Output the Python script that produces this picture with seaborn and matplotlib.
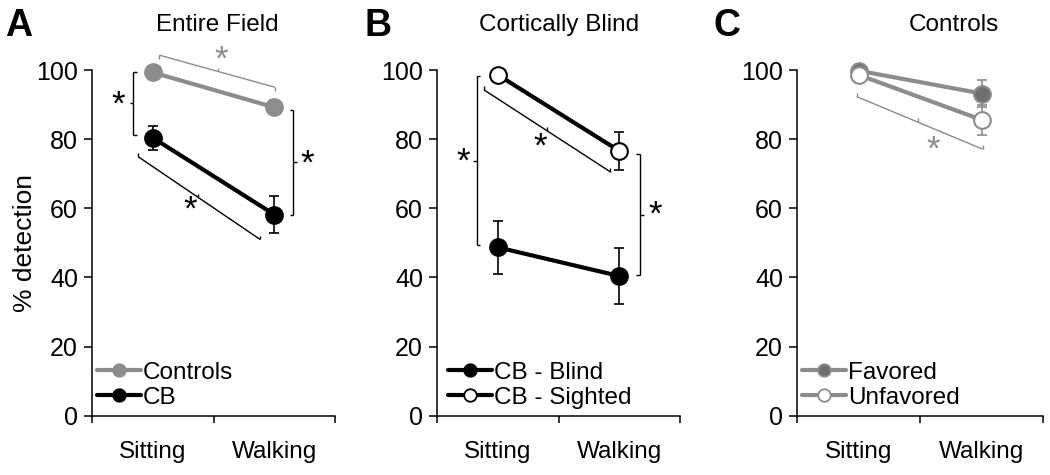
import matplotlib
matplotlib.use("Agg")
import matplotlib.pyplot as plt
import seaborn as sns
from matplotlib.lines import Line2D

# ---------------- data ----------------
conditions = ["Sitting", "Walking"]

# Panel A: entire field
controls_mean = [99.3, 89.2]
controls_sem = [1.0, 2.0]
cb_mean = [80.4, 58.2]
cb_sem = [3.4, 5.3]

# Panel B: cortically blind
blind_mean = [48.7, 40.4]
blind_sem = [7.6, 8.2]
sighted_mean = [98.6, 76.6]
sighted_sem = [0.5, 5.6]

# Panel C: controls
fav_mean = [99.8, 93.2]
fav_sem = [1.0, 4.0]
unfav_mean = [98.6, 85.6]
unfav_sem = [1.0, 4.3]

titles = ["Entire Field", "Cortically Blind", "Controls"]
letters = ["A", "B", "C"]
yticks = [0, 20, 40, 60, 80, 100]

GREY = "#8c8c8c"
DGREY = "#6f6f6f"
FS = 17.5

sns.set_theme(style="ticks")
plt.rcParams["font.family"] = ["Liberation Sans", "DejaVu Sans"]
plt.rcParams["text.color"] = "black"
plt.rcParams["axes.labelcolor"] = "black"
plt.rcParams["xtick.color"] = "black"
plt.rcParams["ytick.color"] = "black"
plt.rcParams["xtick.labelcolor"] = "black"
plt.rcParams["ytick.labelcolor"] = "black"

fig = plt.figure(figsize=(10.5, 4.75), dpi=100)
W, H = 1050, 475
ax_bottom = 1 - 415.7 / H
ax_height = 345.7 / H
axA = fig.add_axes([92 / W, ax_bottom, 243 / W, ax_height])
axB = fig.add_axes([437 / W, ax_bottom, 243 / W, ax_height])
axC = fig.add_axes([797 / W, ax_bottom, 246 / W, ax_height])
axes = [axA, axB, axC]


def series(ax, mean, sem, color, face, ecolor, label):
    xs = list(range(len(conditions)))
    ax.errorbar(xs, mean, yerr=sem, fmt="none", ecolor=ecolor, elinewidth=1.2,
                capsize=3.6, capthick=1.2, zorder=2, clip_on=False)
    sns.pointplot(x=conditions, y=mean, color=color, errorbar=None, ax=ax,
                  markers="o", linestyles="-", linewidth=3.0, markersize=12,
                  markeredgewidth=1.5, markerfacecolor=face,
                  markeredgecolor=color, label=label, clip_on=False, zorder=3)
    return Line2D([], [], color=color, lw=3.0, marker="o", markersize=9,
                  markerfacecolor=face, markeredgecolor=color,
                  markeredgewidth=1.3, label=label)


hA = [series(axA, controls_mean, controls_sem, GREY, GREY, GREY, "Controls"),
      series(axA, cb_mean, cb_sem, "black", "black", "black", "CB")]
hB = [series(axB, blind_mean, blind_sem, "black", "black", "black", "CB - Blind"),
      series(axB, sighted_mean, sighted_sem, "black", "white", "black", "CB - Sighted")]
hC = [series(axC, fav_mean, fav_sem, GREY, DGREY, GREY, "Favored"),
      series(axC, unfav_mean, unfav_sem, GREY, "white", GREY, "Unfavored")]

legend_x = [0.02, 0.045, 0.02]
for ax, handles, lx in zip(axes, [hA, hB, hC], legend_x):
    leg = ax.legend(handles=handles, loc="lower left", bbox_to_anchor=(lx, 0.02),
                    frameon=False, fontsize=FS, handlelength=1.8, handletextpad=0.1,
                    labelspacing=0.12, borderpad=0, borderaxespad=0)
    for txt in leg.get_texts():
        txt.set_color("black")

for ax, t, tx in zip(axes, titles, [0.517, 0.502, 0.638]):
    ax.set_xlim(-0.5, 1.5)
    ax.set_ylim(0, 100)
    ax.set_yticks(yticks)
    ax.set_yticklabels([str(v) for v in yticks], fontsize=FS + 0.5, color="black")
    ax.set_xticks([-0.5, 0.5, 1.5])
    ax.set_xticklabels(["", "", ""])
    ax.set_xticks([0, 1], minor=True)
    ax.set_xticklabels(conditions, minor=True, fontsize=FS, color="black")
    ax.tick_params(axis="x", which="minor", length=0, pad=18)
    ax.tick_params(axis="x", which="major", length=5, width=1.1, direction="out", color="black")
    ax.tick_params(axis="y", length=6, width=1.1, direction="out", pad=4, color="black")
    for s in ["top", "right"]:
        ax.spines[s].set_visible(False)
    for s in ["left", "bottom"]:
        ax.spines[s].set_linewidth(1.1)
        ax.spines[s].set_color("black")
    ax.set_xlabel("")
    ax.set_ylabel("")
    ax.patch.set_alpha(0)
    ax.text(tx, 1.13, t, transform=ax.transAxes, ha="center", va="center",
            fontsize=FS, color="black")

axA.set_ylabel("% detection", fontsize=19, va="center", color="black")
axA.yaxis.set_label_coords(-0.276, 0.5)

for L, xpx in zip(letters, [19, 378, 727]):
    fig.text(xpx / W, 1 - 26 / H, L, ha="center", va="center", fontsize=27,
             fontweight="bold", color="black")


# ---------------- significance annotations ----------------
BLW = 1.0
TX = 0.03   # horizontal tick length (x units)
TY = 1.1    # vertical tick length (y units)


def slant(ax, x0, y0, x1, y1, xm, end_dir, mid_dir, color):
    kw = dict(color=color, lw=BLW, clip_on=False, solid_capstyle="butt")
    ax.plot([x0, x1], [y0, y1], **kw)
    ax.plot([x0, x0], [y0, y0 + end_dir * TY], **kw)
    ax.plot([x1, x1], [y1, y1 + end_dir * TY], **kw)
    ym = y0 + (xm - x0) / (x1 - x0) * (y1 - y0)
    ax.plot([xm, xm], [ym, ym + mid_dir * TY], **kw)


def vbracket(ax, x, y0, y1, end_dir, color):
    kw = dict(color=color, lw=BLW, clip_on=False, solid_capstyle="butt")
    ax.plot([x, x], [y0, y1], **kw)
    ax.plot([x, x + end_dir * TX], [y0, y0], **kw)
    ax.plot([x, x + end_dir * TX], [y1, y1], **kw)
    ym = (y0 + y1) / 2
    ax.plot([x, x - end_dir * TX], [ym, ym], **kw)


def star(ax, x, y, color):
    ax.text(x, y, "*", ha="center", va="center", fontsize=25, color=color, clip_on=False)


# Panel A
slant(axA, 0.054, 104.3, 1.006, 95.0, 0.537, -1, 1, GREY)
star(axA, 0.567, 103.0, GREY)
vbracket(axA, -0.160, 99.5, 81.2, 1, "black")
star(axA, -0.286, 89.8, "black")
vbracket(axA, 1.157, 88.4, 58.1, -1, "black")
star(axA, 1.272, 72.7, "black")
slant(axA, -0.119, 74.9, 0.883, 51.0, 0.375, 1, 1, "black")
star(axA, 0.312, 59.4, "black")

# Panel B
vbracket(axB, -0.173, 98.2, 49.3, 1, "black")
star(axB, -0.284, 73.4, "black")
slant(axB, -0.111, 94.2, 0.924, 70.6, 0.403, 1, 1, "black")
star(axB, 0.353, 77.7, "black")
vbracket(axB, 1.171, 75.7, 40.7, -1, "black")
star(axB, 1.294, 57.9, "black")

# Panel C
slant(axC, -0.015, 92.3, 1.010, 77.1, 0.486, 1, 1, GREY)
star(axC, 0.608, 76.7, GREY)

fig.savefig("out.png", dpi=100)
